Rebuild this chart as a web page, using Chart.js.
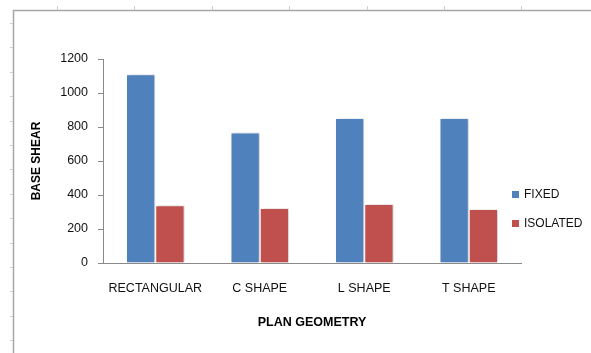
<!DOCTYPE html>
<html>
<head>
<meta charset="utf-8">
<script src="https://cdn.jsdelivr.net/npm/chart.js@4.4.1/dist/chart.umd.min.js"></script>
<style>
  html, body { margin: 0; padding: 0; background: #ffffff; }
  #wrap { width: 591px; height: 353px; position: relative; }
</style>
</head>
<body>
<div id="wrap"><canvas id="chart" width="591" height="353"></canvas></div>
<script>
// Base shear by plan geometry, fixed-base vs base-isolated
const categories = ['RECTANGULAR', 'C SHAPE', 'L SHAPE', 'T SHAPE'];
const fixedValues = [1110, 768, 853, 853];
const isolatedValues = [339, 323, 347, 318];
const seriesNames = ['FIXED', 'ISOLATED'];
const seriesColors = ['#4F81BD', '#C0504D'];
const yTicks = [0, 200, 400, 600, 800, 1000, 1200];

const FONT = '"Liberation Sans", Arial, sans-serif';
const AXIS_GREY = '#8a8a8a';

// Worksheet frame behind the chart: top and left border with ruler marks
const sheetFrame = {
  id: 'sheetFrame',
  beforeDraw(chart) {
    const ctx = chart.ctx;
    ctx.save();
    ctx.strokeStyle = '#a6a6a6';
    ctx.lineWidth = 1.5;
    ctx.beginPath();
    ctx.moveTo(13.5, 353);
    ctx.lineTo(13.5, 10.5);
    ctx.lineTo(591, 10.5);
    ctx.stroke();
    ctx.strokeStyle = '#cfcfcf';
    ctx.lineWidth = 1;
    ctx.beginPath();
    for (let x = 57; x < 591; x += 77.4) {
      ctx.moveTo(Math.round(x) + 0.5, 6);
      ctx.lineTo(Math.round(x) + 0.5, 10);
    }
    for (let y = 23; y < 353; y += 24.4) {
      ctx.moveTo(10, Math.round(y) + 0.5);
      ctx.lineTo(13, Math.round(y) + 0.5);
    }
    ctx.stroke();
    ctx.restore();
  }
};

// Soft drop shadow to the right of each bar
const barShadow = {
  id: 'barShadow',
  beforeDatasetsDraw(chart) {
    const ctx = chart.ctx;
    ctx.save();
    ctx.shadowColor = 'rgba(0,0,0,0.22)';
    ctx.shadowBlur = 3;
    ctx.shadowOffsetX = 2;
    ctx.shadowOffsetY = 0;
  },
  afterDatasetsDraw(chart) {
    chart.ctx.restore();
  }
};

// Legend on the right, one square marker per series
const sideLegend = {
  id: 'sideLegend',
  afterDraw(chart) {
    const ctx = chart.ctx;
    ctx.save();
    ctx.font = '12px ' + FONT;
    ctx.textBaseline = 'middle';
    ctx.textAlign = 'left';
    chart.data.datasets.forEach((ds, i) => {
      const cy = 195 + i * 29;
      ctx.fillStyle = ds.backgroundColor;
      ctx.fillRect(512, cy - 4, 7, 7);
      ctx.fillStyle = '#111111';
      ctx.fillText(ds.label, 524, cy);
    });
    ctx.restore();
  }
};

new Chart(document.getElementById('chart'), {
  type: 'bar',
  data: {
    labels: categories,
    datasets: [
      {
        label: seriesNames[0],
        data: fixedValues,
        backgroundColor: seriesColors[0],
        borderColor: 'rgba(255,255,255,0.55)',
        borderWidth: 1,
        categoryPercentage: 0.56,
        barPercentage: 1.0
      },
      {
        label: seriesNames[1],
        data: isolatedValues,
        backgroundColor: seriesColors[1],
        borderColor: 'rgba(255,255,255,0.55)',
        borderWidth: 1,
        categoryPercentage: 0.56,
        barPercentage: 1.0
      }
    ]
  },
  options: {
    responsive: false,
    animation: false,
    devicePixelRatio: 1,
    layout: { padding: { left: 0, right: 70, top: 59, bottom: 0 } },
    plugins: {
      legend: { display: false },
      tooltip: { enabled: false },
      title: { display: false }
    },
    scales: {
      x: {
        grid: { display: false, drawTicks: false },
        border: { display: true, color: AXIS_GREY, width: 1 },
        ticks: {
          color: '#111111',
          font: { family: FONT, size: 12.5 },
          padding: 18,
          maxRotation: 0,
          autoSkip: false
        },
        title: {
          display: true,
          text: 'PLAN GEOMETRY',
          color: '#000000',
          font: { family: FONT, size: 12.5, weight: 'bold' },
          padding: { top: 0, bottom: 23 }
        },
        afterFit(scale) { scale.height = 90; }
      },
      y: {
        min: 0,
        max: 1200,
        afterBuildTicks(scale) { scale.ticks = yTicks.map(v => ({ value: v })); },
        grid: {
          display: true,
          drawOnChartArea: false,
          drawTicks: true,
          tickLength: 5,
          color: AXIS_GREY
        },
        border: { display: true, color: AXIS_GREY, width: 1 },
        ticks: {
          color: '#111111',
          font: { family: FONT, size: 12.5 },
          padding: 10,
          callback: (value) => String(value)
        },
        title: {
          display: true,
          text: 'BASE SHEAR',
          color: '#000000',
          font: { family: FONT, size: 12, weight: 'bold' },
          padding: { top: 29, bottom: 0 }
        },
        afterFit(scale) { scale.width = 103; }
      }
    }
  },
  plugins: [sheetFrame, barShadow, sideLegend]
});
</script>
</body>
</html>
